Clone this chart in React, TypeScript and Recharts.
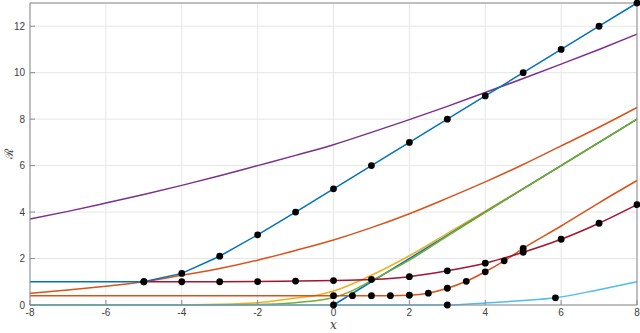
import React from 'react';
import { LineChart, Line, XAxis, YAxis, CartesianGrid } from 'recharts';

// x positions shared by the smooth curves
const gridX = [-8, -7, -6, -5, -4, -3, -2, -1, 0, 1, 2, 3, 4, 5, 6, 7, 8];

const purpleY = [3.7, 4.03, 4.39, 4.76, 5.15, 5.56, 6.0, 6.44, 6.9, 7.43, 7.98, 8.55, 9.15, 9.75, 10.37, 11.0, 11.66];
const orangeUpY = [0.5, 0.65, 0.81, 1.0, 1.28, 1.57, 1.93, 2.35, 2.8, 3.33, 3.93, 4.6, 5.3, 6.05, 6.85, 7.65, 8.5];

const yellowX = [-8, -5, -4, -3, -2, -1, -0.5, 0, 1, 2, 3, 4, 5, 6, 7, 8];
const yellowY = [0, 0, 0.01, 0.03, 0.1, 0.3, 0.4, 0.6, 1.28, 2.12, 3.08, 4.04, 5.01, 6.0, 7.0, 8.0];

const greenX = [-8, -4, -3, -2, -1, -0.5, 0, 0.5, 1, 2, 3, 4, 5, 6, 7, 8];
const greenY = [0, 0, 0.005, 0.02, 0.1, 0.18, 0.32, 0.62, 1.05, 1.93, 2.97, 3.99, 5.0, 6.0, 7.0, 8.0];

const reluX = [0, 8];
const reluY = [0, 8];
const reluMarks = [true, false];

const lightBlueX = [-8, 3, 4, 5, 5.85, 7, 8];
const lightBlueY = [0, 0, 0.09, 0.19, 0.31, 0.66, 1.0];
const lightBlueMarks = [false, true, false, false, true, false, false];

const blueX = [-8, -5, -4, -3, -2, -1, 0, 1, 2, 3, 4, 5, 6, 7, 8];
const blueY = [1, 1, 1.36, 2.1, 3.02, 4.0, 5, 6, 7, 8, 9, 10, 11, 12, 13];
const blueMarks = [false, true, true, true, true, true, true, true, true, true, true, true, true, true, true];

const redX = [-5, -4, -3, -2, -1, 0, 1, 2, 3, 4, 5, 6, 7, 8];
const redY = [1.0, 1.0, 1.0, 1.01, 1.03, 1.05, 1.1, 1.22, 1.47, 1.8, 2.27, 2.83, 3.52, 4.32];

const orangeLowX = [-8, 0, 0.5, 1, 1.5, 2, 2.5, 3, 3.5, 4, 4.5, 5, 6, 7, 8];
const orangeLowY = [0.4, 0.4, 0.4, 0.4, 0.4, 0.42, 0.51, 0.72, 1.02, 1.43, 1.9, 2.44, 3.4, 4.4, 5.36];
const orangeLowMarks = [false, true, true, true, true, true, true, true, true, true, true, true, false, false, false];

const xTicks = [-8, -6, -4, -2, 0, 2, 4, 6, 8];
const yTicks = [0, 2, 4, 6, 8, 10, 12];

const pts = (xs: number[], ys: number[], marks?: boolean[]) =>
  xs.map((x, i) => ({ x, y: ys[i], m: marks ? marks[i] : true }));

const markDot = (props: any) => {
  const { cx, cy, payload, index } = props;
  if (!payload.m) return <g key={`d${index}`} />;
  return <circle key={`d${index}`} cx={cx} cy={cy} r={3.4} fill="#000" stroke="none" />;
};

const axisColor = '#8a8a8a';
const tickStyle = { fontSize: 10, fill: '#404040', fontFamily: 'Liberation Sans, Arial, sans-serif' };
const blank = () => '';

const App: React.FC = () => {
  return (
    <div style={{ position: 'absolute', left: 0, top: 0, background: '#fff' }}>
      <LineChart width={640} height={333} margin={{ top: 2, right: 2, left: 0, bottom: 0 }}>
        <CartesianGrid stroke="#e6e6e6" xAxisId="bottom" yAxisId="left" />
        <XAxis
          xAxisId="bottom"
          type="number"
          dataKey="x"
          domain={[-8, 8]}
          ticks={xTicks}
          height={28}
          stroke={axisColor}
          tickSize={-5}
          tickMargin={9}
          tick={tickStyle}
          allowDuplicatedCategory={false}
          label={{ value: 'x', position: 'insideBottom', offset: 4, style: { fontFamily: 'DejaVu Serif, serif', fontStyle: 'italic', fontSize: 12, fill: '#404040' } }}
        />
        <XAxis
          xAxisId="top"
          orientation="top"
          type="number"
          dataKey="x"
          domain={[-8, 8]}
          ticks={xTicks}
          height={1}
          stroke={axisColor}
          tickSize={-5}
          tickFormatter={blank}
        />
        <YAxis
          yAxisId="left"
          type="number"
          domain={[0, 13]}
          ticks={yTicks}
          width={30}
          stroke={axisColor}
          tickSize={-5}
          tickMargin={10}
          tick={tickStyle}
          label={{ value: 'ℛ', angle: -90, position: 'insideLeft', offset: 9, style: { fontFamily: 'DejaVu Serif, serif', fontSize: 12, fill: '#404040', textAnchor: 'middle' } }}
        />
        <YAxis
          yAxisId="right"
          orientation="right"
          type="number"
          domain={[0, 13]}
          ticks={yTicks}
          width={1}
          stroke={axisColor}
          tickSize={-5}
          tickFormatter={blank}
        />
        <Line xAxisId="bottom" yAxisId="left" data={pts(gridX, purpleY)} dataKey="y" type="monotone" stroke="#7E2F8E" strokeWidth={1.5} dot={false} isAnimationActive={false} />
        <Line xAxisId="bottom" yAxisId="left" data={pts(gridX, orangeUpY)} dataKey="y" type="monotone" stroke="#D95319" strokeWidth={1.5} dot={false} isAnimationActive={false} />
        <Line xAxisId="bottom" yAxisId="left" data={pts(yellowX, yellowY)} dataKey="y" type="monotone" stroke="#EDB120" strokeWidth={1.5} dot={false} isAnimationActive={false} />
        <Line xAxisId="bottom" yAxisId="left" data={pts(reluX, reluY, reluMarks)} dataKey="y" type="linear" stroke="#0072BD" strokeWidth={1.5} dot={markDot} isAnimationActive={false} />
        <Line xAxisId="bottom" yAxisId="left" data={pts(greenX, greenY)} dataKey="y" type="monotone" stroke="#77AC30" strokeWidth={1.5} dot={false} isAnimationActive={false} />
        <Line xAxisId="bottom" yAxisId="left" data={pts(lightBlueX, lightBlueY, lightBlueMarks)} dataKey="y" type="monotone" stroke="#4DBEEE" strokeWidth={1.5} dot={markDot} isAnimationActive={false} />
        <Line xAxisId="bottom" yAxisId="left" data={pts(orangeLowX, orangeLowY, orangeLowMarks)} dataKey="y" type="monotone" stroke="#D95319" strokeWidth={1.5} dot={markDot} isAnimationActive={false} />
        <Line xAxisId="bottom" yAxisId="left" data={pts(redX, redY)} dataKey="y" type="monotone" stroke="#A2142F" strokeWidth={1.5} dot={markDot} isAnimationActive={false} />
        <Line xAxisId="bottom" yAxisId="left" data={pts(blueX, blueY, blueMarks)} dataKey="y" type="linear" stroke="#0072BD" strokeWidth={1.5} dot={markDot} isAnimationActive={false} />
      </LineChart>
    </div>
  );
};

export default App;
